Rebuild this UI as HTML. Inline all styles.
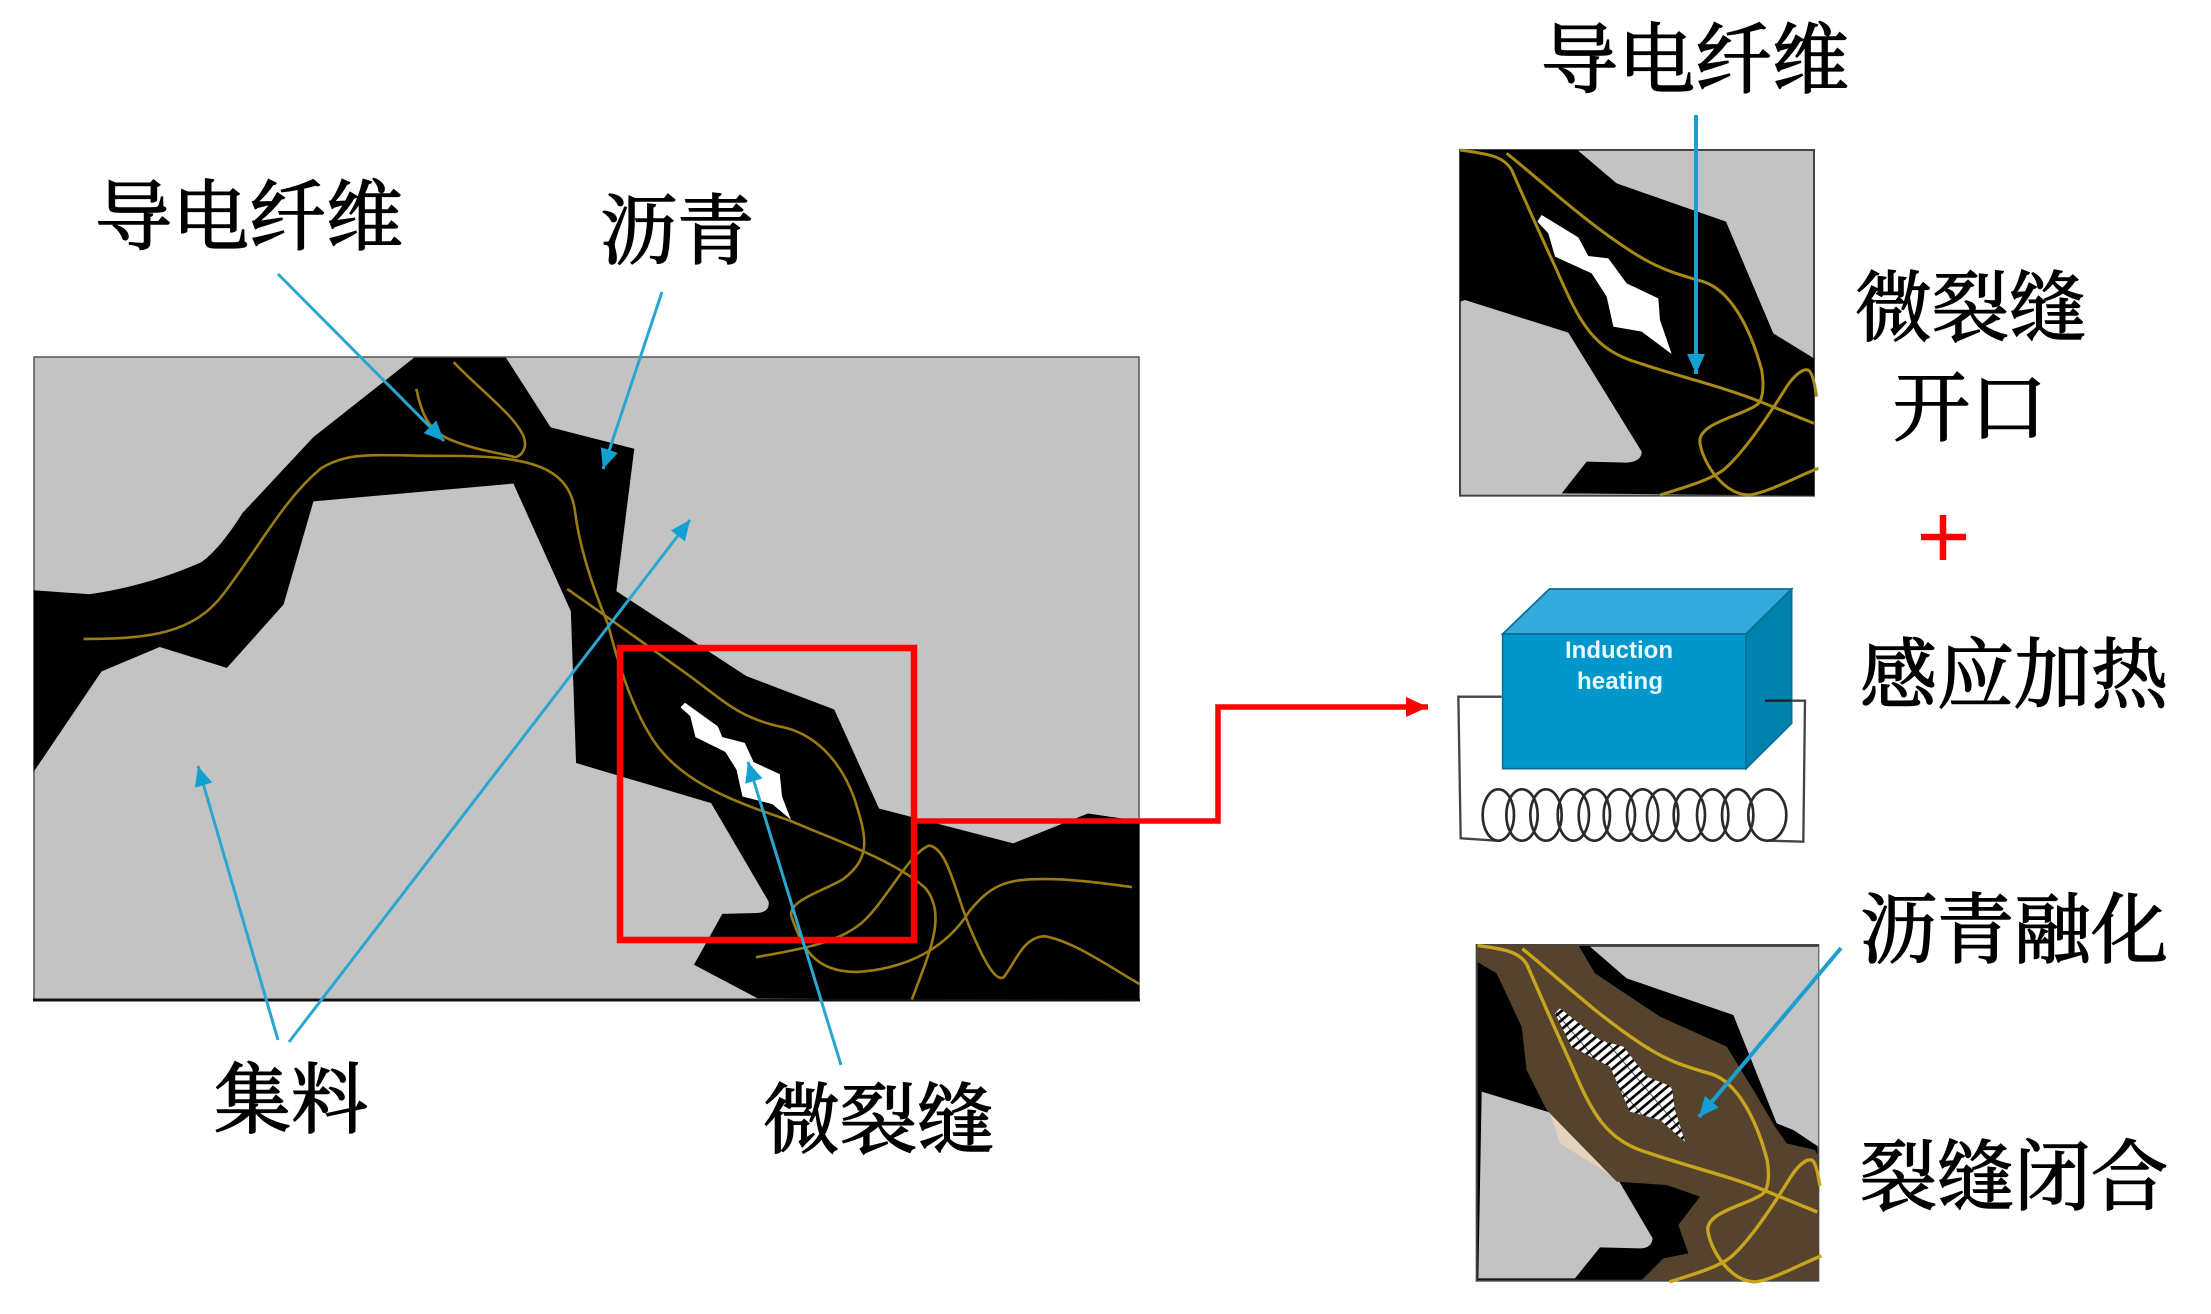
<!DOCTYPE html>
<html><head><meta charset="utf-8">
<style>
html,body{margin:0;padding:0;background:#fff;width:2211px;height:1314px;overflow:hidden}
svg{display:block}
.t{font-family:"Liberation Serif","Noto Serif CJK SC",serif;font-size:77px;fill:#000;stroke:#000;stroke-width:1.5px}
.a{stroke:#2ba6d1;stroke-width:3px;fill:none}
.a2{stroke:#1c9fcc;stroke-width:4px;fill:none}
.f{fill:none;stroke:#9a7c12;stroke-width:2.6px;vector-effect:non-scaling-stroke}
.f2{fill:none;stroke:#a88a14;stroke-width:3px;vector-effect:non-scaling-stroke}
.f3{fill:none;stroke:#c9a41e;stroke-width:3.4px;vector-effect:non-scaling-stroke}
</style></head><body>
<svg width="2211" height="1314" viewBox="0 0 2211 1314" xmlns="http://www.w3.org/2000/svg">
<defs>
<marker id="b" markerUnits="userSpaceOnUse" markerWidth="24" markerHeight="24" refX="20" refY="9" orient="auto"><path d="M0,0L20,9L0,18Z" fill="#12a0d2"/></marker>
<marker id="r" markerUnits="userSpaceOnUse" markerWidth="26" markerHeight="24" refX="22" refY="10" orient="auto"><path d="M0,0L22,10L0,20Z" fill="#f00"/></marker>
<pattern id="h" patternUnits="userSpaceOnUse" width="60" height="21" patternTransform="rotate(-40)">
<rect width="60" height="21" fill="#fff"/><rect y="0" width="60" height="8" fill="#000"/><rect x="0" width="3" height="21" fill="#000" opacity=".7"/>
</pattern>
</defs>

<!-- main panel -->
<rect x="34" y="357" width="1105" height="643" fill="#c3c3c3" stroke="#555" stroke-width="1.5"/>
<line x1="33" y1="1000" x2="1140" y2="1000" stroke="#111" stroke-width="3"/>
<g transform="translate(0,330) scale(.7462,.4464)">
<path fill="#000" d="M555,62L678,62L738,218L850,266L826,585L1000,775L1118,850L1178,1072L1358,1150L1458,1083L1527,1100L1527,1500L1015,1497L930,1422L968,1308L1015,1306Q1032,1304 1030,1280L953,1060L772,970L765,630L688,344L420,384L380,615L304,757L214,710L136,765L45,990L45,583L120,592Q200,572 270,520Q295,490 325,410L420,240Z"/>
<path fill="#fff" d="M918,835L962,888L968,912L998,925L1010,968L1045,995L1048,1045L1060,1097L1035,1062L995,1045L987,985L972,945L932,912L925,865L912,845Z"/>
<path class="f" d="M112,692C200,692 260,680 300,590C350,480 380,380 430,310C470,270 500,282 600,282C700,282 760,300 770,400C775,470 790,560 815,660C830,760 850,860 880,930C920,1020 990,1060 1060,1100C1130,1150 1200,1190 1240,1250C1265,1300 1250,1370 1240,1420L1222,1500"/>
<path class="f" d="M558,132C565,190 575,230 610,250C640,270 670,275 690,285"/>
<path class="f" d="M608,72C640,130 690,190 702,240C708,270 695,285 690,285"/>
<path class="f" d="M760,580C820,650 870,710 920,770C970,830 990,870 1050,890C1100,910 1130,980 1145,1050C1160,1130 1170,1180 1130,1230C1100,1260 1050,1280 1062,1320C1075,1380 1090,1440 1150,1438C1220,1430 1270,1380 1300,1300C1330,1240 1350,1230 1400,1230C1440,1230 1480,1240 1517,1248"/>
<path class="f" d="M1013,1405C1080,1385 1130,1370 1160,1320C1190,1270 1220,1170 1245,1155C1270,1160 1280,1260 1300,1340C1320,1420 1335,1460 1345,1450C1360,1420 1370,1360 1400,1358C1440,1370 1490,1430 1527,1465"/>
</g>

<!-- red box + connector -->
<rect x="620" y="648" width="294" height="292" fill="none" stroke="#f00" stroke-width="6.5"/>
<path d="M914,821H1218V707H1428" fill="none" stroke="#f00" stroke-width="5.5" marker-end="url(#r)"/>

<!-- blue arrows main -->
<line class="a" x1="278" y1="274" x2="444" y2="441" marker-end="url(#b)"/>
<line class="a" x1="662" y1="292" x2="603" y2="469" marker-end="url(#b)"/>
<line class="a" x1="278" y1="1040" x2="198" y2="766" marker-end="url(#b)"/>
<line class="a" x1="289" y1="1042" x2="690" y2="520" marker-end="url(#b)"/>
<line class="a" x1="841" y1="1065" x2="748" y2="762" marker-end="url(#b)"/>

<!-- top right panel -->
<g transform="translate(1440,130) scale(.33333)">
<rect x="60" y="60" width="1062" height="1037" fill="#c3c3c3" stroke="#444" stroke-width="6"/>
<path fill="#000" d="M60,60L412,60L530,160L858,275L1000,610L1122,685L1122,1097L365,1090L440,995L560,998Q605,995 605,965L385,608L75,510L60,515Z"/>
<path fill="#fff" d="M305,255L415,322L445,378L505,385L560,460L655,505L660,570L695,672L605,605L520,590L500,500L455,430L345,380L325,310L292,275Z"/>
<path class="f2" d="M60,60C130,70 190,75 215,120C250,200 290,290 350,420C420,580 460,660 600,700C700,735 850,770 960,815L1122,880"/>
<path class="f2" d="M200,70C300,150 430,270 560,355C640,410 700,430 790,455C870,480 930,590 965,720C975,780 965,815 950,825C900,860 770,880 780,940C790,1000 850,1095 930,1095C990,1085 1070,1040 1135,1015"/>
<path class="f2" d="M660,1095C740,1070 810,1050 850,1020C910,970 990,850 1040,770C1070,725 1100,710 1110,725C1120,740 1125,770 1130,800"/>
</g>
<line class="a2" x1="1696" y1="115" x2="1696" y2="374" marker-end="url(#b)"/>

<!-- induction heater -->
<g transform="translate(1440,570) scale(.33333)">
<path d="M185,380H55L62,805L170,812M975,392H1095L1090,815L985,812" fill="none" stroke="#444" stroke-width="7"/>
<g fill="none" stroke="#2a2a2a" stroke-width="8">
<ellipse cx="175" cy="735" rx="47" ry="77"/><ellipse cx="246" cy="735" rx="47" ry="77"/><ellipse cx="318" cy="735" rx="47" ry="77"/><ellipse cx="400" cy="735" rx="47" ry="77"/><ellipse cx="463" cy="735" rx="47" ry="77"/><ellipse cx="538" cy="735" rx="47" ry="77"/><ellipse cx="608" cy="735" rx="47" ry="77"/><ellipse cx="668" cy="735" rx="47" ry="77"/><ellipse cx="748" cy="735" rx="47" ry="77"/><ellipse cx="818" cy="735" rx="47" ry="77"/><ellipse cx="893" cy="735" rx="47" ry="77"/><ellipse cx="982" cy="735" rx="57" ry="77"/>
</g>
<path d="M188,192L328,57H1055L918,192Z" fill="#33aadb" stroke="#0a6e92" stroke-width="5"/>
<path d="M918,192L1055,57V460L918,596Z" fill="#0082ae" stroke="#0a6e92" stroke-width="5"/>
<rect x="188" y="192" width="730" height="404" fill="#0098cc" stroke="#0a6e92" stroke-width="5"/>
<path d="M975,392H1055" stroke="#222" stroke-width="7" fill="none"/>
</g>
<text x="1619" y="658" text-anchor="middle" textLength="108" lengthAdjust="spacing" font-family="Liberation Sans,sans-serif" font-weight="700" font-size="24" fill="#e8f7fc">Induction</text>
<text x="1620" y="689" text-anchor="middle" textLength="86" lengthAdjust="spacing" font-family="Liberation Sans,sans-serif" font-weight="700" font-size="24" fill="#e8f7fc">heating</text>

<!-- bottom right panel -->
<g transform="translate(1460,930) scale(.33333)">
<rect x="50" y="45" width="1025" height="1007" fill="#000" stroke="#444" stroke-width="6"/>
<path fill="#c3c3c3" d="M390,50L1075,50L1075,650L1000,600L950,580L820,255L500,145Z"/>
<path fill="#c3c3c3" d="M65,485L360,575L475,750L578,925Q575,955 540,955L420,952L345,1045L55,1045Z"/>
<path fill="#e3d2bd" d="M270,550L360,578L470,750L420,715L300,640Z"/>
<path fill="#55432e" d="M50,45L355,45L405,130L600,260L800,350L880,480L945,590L980,640L1065,660L1075,680L1075,1052L545,1050L610,985L685,970L655,885L720,800L620,765L470,755L260,540L200,420L185,290L110,130L50,95Z"/>
<path fill="url(#h)" d="M300,235L420,330L490,350L560,440L635,470L645,540L675,635L600,570L510,545L450,410L335,350L285,250Z"/>
<g transform="translate(-5,-12) scale(.96,.975)">
<path class="f3" d="M60,60C130,70 190,75 215,120C250,200 290,290 350,420C420,580 460,660 600,700C700,735 850,770 960,815L1122,880"/>
<path class="f3" d="M200,70C300,150 430,270 560,355C640,410 700,430 790,455C870,480 930,590 965,720C975,780 965,815 950,825C900,860 770,880 780,940C790,1000 850,1095 930,1095C990,1085 1070,1040 1135,1015"/>
<path class="f3" d="M660,1095C740,1070 810,1050 850,1020C910,970 990,850 1040,770C1070,725 1100,710 1110,725C1120,740 1125,770 1130,800"/>
</g>
</g>
<line class="a2" x1="1841" y1="948" x2="1699" y2="1117" marker-end="url(#b)"/>

<!-- plus -->
<path d="M1921,537H1966M1943,515V560" stroke="#f00" stroke-width="6.5" fill="none"/>

<!-- labels -->
<g class="t">
<text x="95" y="244">导电纤维</text>
<text x="600" y="258">沥青</text>
<text x="214" y="1127">集料</text>
<text x="763" y="1147">微裂缝</text>
<text x="1541" y="87">导电纤维</text>
<text x="1855" y="335">微裂缝</text>
<text x="1893" y="435">开口</text>
<text x="1860" y="702">感应加热</text>
<text x="1860" y="957">沥青融化</text>
<text x="1860" y="1204">裂缝闭合</text>
</g>
</svg>
</body></html>
